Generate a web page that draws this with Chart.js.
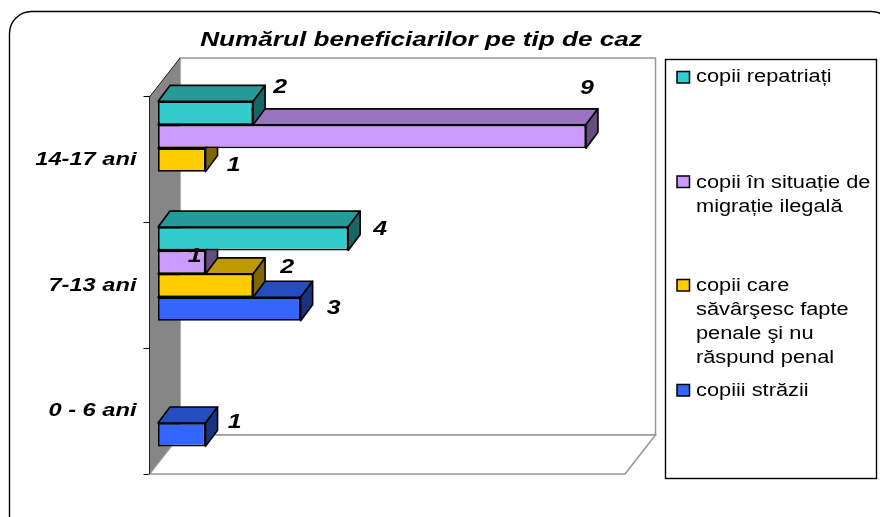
<!DOCTYPE html>
<html><head><meta charset="utf-8">
<style>html,body{margin:0;padding:0;background:#fff}canvas{display:block}</style>
<script src="https://cdn.jsdelivr.net/npm/chart.js@4"></script>
</head><body><canvas id="c" width="880" height="517"></canvas>
<script>
const categories = ['14-17 ani', '7-13 ani', '0 - 6 ani'];
const seriesNames = ['copii repatriați', 'copii în situație de migrație ilegală', 'copii care săvârşesc fapte penale şi nu răspund penal', 'copiii străzii'];
const repatriati = [2, 4, null];
const migratie = [9, 1, null];
const fapte = [1, 2, null];
const strazii = [null, 3, 1];
const titleText = 'Numărul beneficiarilor pe tip de caz';

const FONT = '"Liberation Sans", Arial, sans-serif';
const TEXT_STRETCH = 1.245;
const colors = ['#33CCCC', '#CC99FF', '#FFCC00', '#3366FF'];
const topColors = ['#269999', '#9973BF', '#BF9900', '#264DBF'];
const sideColors = ['#1A6666', '#664D80', '#806600', '#1A3380'];
const SHIFT = {x: 8.5, y: -11.6};
const DEPTH = {x: 12, y: -16};
const WALL = {x: 30.5, y: -39};
// hand-placed label offsets, per dataset / category, relative to bar end and centre
const labelOffsets = [
  [[27, -25.5], [32, -9], null],
  [[1, -48], [-11, -5.5], null],
  [[28, 5.5], [34, -18.5], null],
  [null, [33, -0.5], [29, -12]]
];
const legendLayout = [
  {sw: 77, lines: [['copii repatriați', 82]]},
  {sw: 181.5, lines: [['copii în situație de', 188], ['migrație ilegală', 212]]},
  {sw: 285, lines: [['copii care', 291], ['săvârşesc fapte', 315], ['penale şi nu', 339], ['răspund penal', 363]]},
  {sw: 390, lines: [['copiii străzii', 396]]}
];

function poly(ctx, pts, fill, stroke, lw) {
  ctx.beginPath();
  pts.forEach((p, i) => i ? ctx.lineTo(p[0], p[1]) : ctx.moveTo(p[0], p[1]));
  ctx.closePath();
  if (fill) { ctx.fillStyle = fill; ctx.fill(); }
  if (stroke) { ctx.strokeStyle = stroke; ctx.lineWidth = lw; ctx.stroke(); }
}

const scene = {
  id: 'scene',
  beforeInit(chart) {
    // the reference's text is stretched horizontally about its anchor
    const c = chart.ctx, orig = c.fillText;
    c.fillText = function (t, x, y, m) {
      c.save(); c.translate(x, y); c.scale(TEXT_STRETCH, 1);
      if (m === undefined) orig.call(c, t, 0, 0); else orig.call(c, t, 0, 0, m);
      c.restore();
    };
  },
  beforeDraw(chart) {
    const c = chart.ctx;
    c.save();
    c.fillStyle = '#fff'; c.fillRect(0, 0, 880, 517);
    c.beginPath(); c.roundRect(9.5, 11.5, 884, 560, 22);
    c.strokeStyle = '#000'; c.lineWidth = 1.4; c.stroke();
    c.restore();
    const t = chart.titleBlock;
    t.left = 2; t.right = 840;
  },
  beforeDatasetsDraw(chart) {
    const c = chart.ctx, a = chart.chartArea;
    const L = a.left, R = a.right, T = a.top, B = a.bottom;
    c.save();
    const G = '#969696';
    poly(c, [[L + WALL.x, T + WALL.y], [R + WALL.x, T + WALL.y], [R + WALL.x, B + WALL.y], [L + WALL.x, B + WALL.y]], '#fff', G, 1.5);
    poly(c, [[L, T], [L + WALL.x, T + WALL.y], [L + WALL.x, B + WALL.y], [L, B]], '#868686', null, 0);
    poly(c, [[L, B], [L + WALL.x, B + WALL.y], [R + WALL.x, B + WALL.y], [R, B]], '#fff', G, 1.5);
    c.beginPath(); c.moveTo(L, B); c.lineTo(L, T); c.lineTo(L + WALL.x, T + WALL.y);
    c.strokeStyle = '#222'; c.lineWidth = 1; c.stroke();
    c.restore();
    c.save();
    c.translate(SHIFT.x, SHIFT.y);
  },
  beforeDatasetDraw(chart, args) {
    const c = chart.ctx, i = args.index;
    chart.getDatasetMeta(i).data.forEach((el, k) => {
      if (chart.data.datasets[i].data[k] == null) return;
      const p = el.getProps(['x', 'y', 'base', 'height'], true);
      const x0 = p.base, x1 = p.x, y0 = p.y - p.height / 2, y1 = p.y + p.height / 2;
      const dx = DEPTH.x, dy = DEPTH.y;
      c.lineJoin = 'round';
      poly(c, [[x0, y0], [x0 + dx, y0 + dy], [x1 + dx, y0 + dy], [x1, y0]], topColors[i], '#000', 1.6);
      poly(c, [[x1, y0], [x1 + dx, y0 + dy], [x1 + dx, y1 + dy], [x1, y1]], sideColors[i], '#000', 1.6);
    });
  },
  afterDatasetsDraw(chart) {
    const c = chart.ctx;
    c.font = 'italic bold 20px ' + FONT;
    c.fillStyle = '#000'; c.textAlign = 'center'; c.textBaseline = 'middle';
    chart.data.datasets.forEach((ds, i) => {
      chart.getDatasetMeta(i).data.forEach((el, k) => {
        if (ds.data[k] == null) return;
        const o = labelOffsets[i][k];
        c.fillText(String(ds.data[k]), el.x + o[0], el.y + o[1]);
      });
    });
    c.restore();
    // legend
    c.save();
    c.strokeStyle = '#000'; c.lineWidth = 1.4;
    c.strokeRect(665.5, 59.5, 211, 419);
    c.font = '17.5px ' + FONT; c.textBaseline = 'alphabetic'; c.textAlign = 'left';
    legendLayout.forEach((it, i) => {
      c.fillStyle = colors[i]; c.fillRect(677, it.sw - 5.5, 12.5, 11.5);
      c.strokeStyle = '#000'; c.lineWidth = 1.5; c.strokeRect(677, it.sw - 5.5, 12.5, 11.5);
      c.fillStyle = '#000';
      it.lines.forEach(l => c.fillText(l[0], 696, l[1]));
    });
    c.restore();
  }
};

new Chart(document.getElementById('c'), {
  type: 'bar',
  data: {
    labels: categories,
    datasets: [repatriati, migratie, fapte, strazii].map((d, i) => ({
      label: seriesNames[i], data: d, backgroundColor: colors[i], borderColor: '#000',
      borderWidth: 1.7, borderSkipped: false, clip: false,
      categoryPercentage: 0.745, barPercentage: 1
    }))
  },
  options: {
    indexAxis: 'y', responsive: false, animation: false,
    layout: {padding: {left: 0, right: 255, top: 0, bottom: 43}},
    plugins: {
      legend: {display: false}, tooltip: {enabled: false},
      title: {display: true, text: titleText, color: '#000',
        font: {family: FONT, size: 21, weight: 'bold', style: 'italic', lineHeight: 1.2},
        padding: {top: 27.9, bottom: 43.9}}
    },
    scales: {
      x: {display: false, min: 0, max: 10},
      y: {
        offset: true,
        afterFit(s) { s.width = 149.5; },
        border: {display: false},
        grid: {drawOnChartArea: false, tickLength: 6, color: '#000', offset: true},
        ticks: {color: '#000', padding: 7, font: {family: FONT, size: 19, weight: 'bold', style: 'italic'}}
      }
    }
  },
  plugins: [scene]
});
</script></body></html>
